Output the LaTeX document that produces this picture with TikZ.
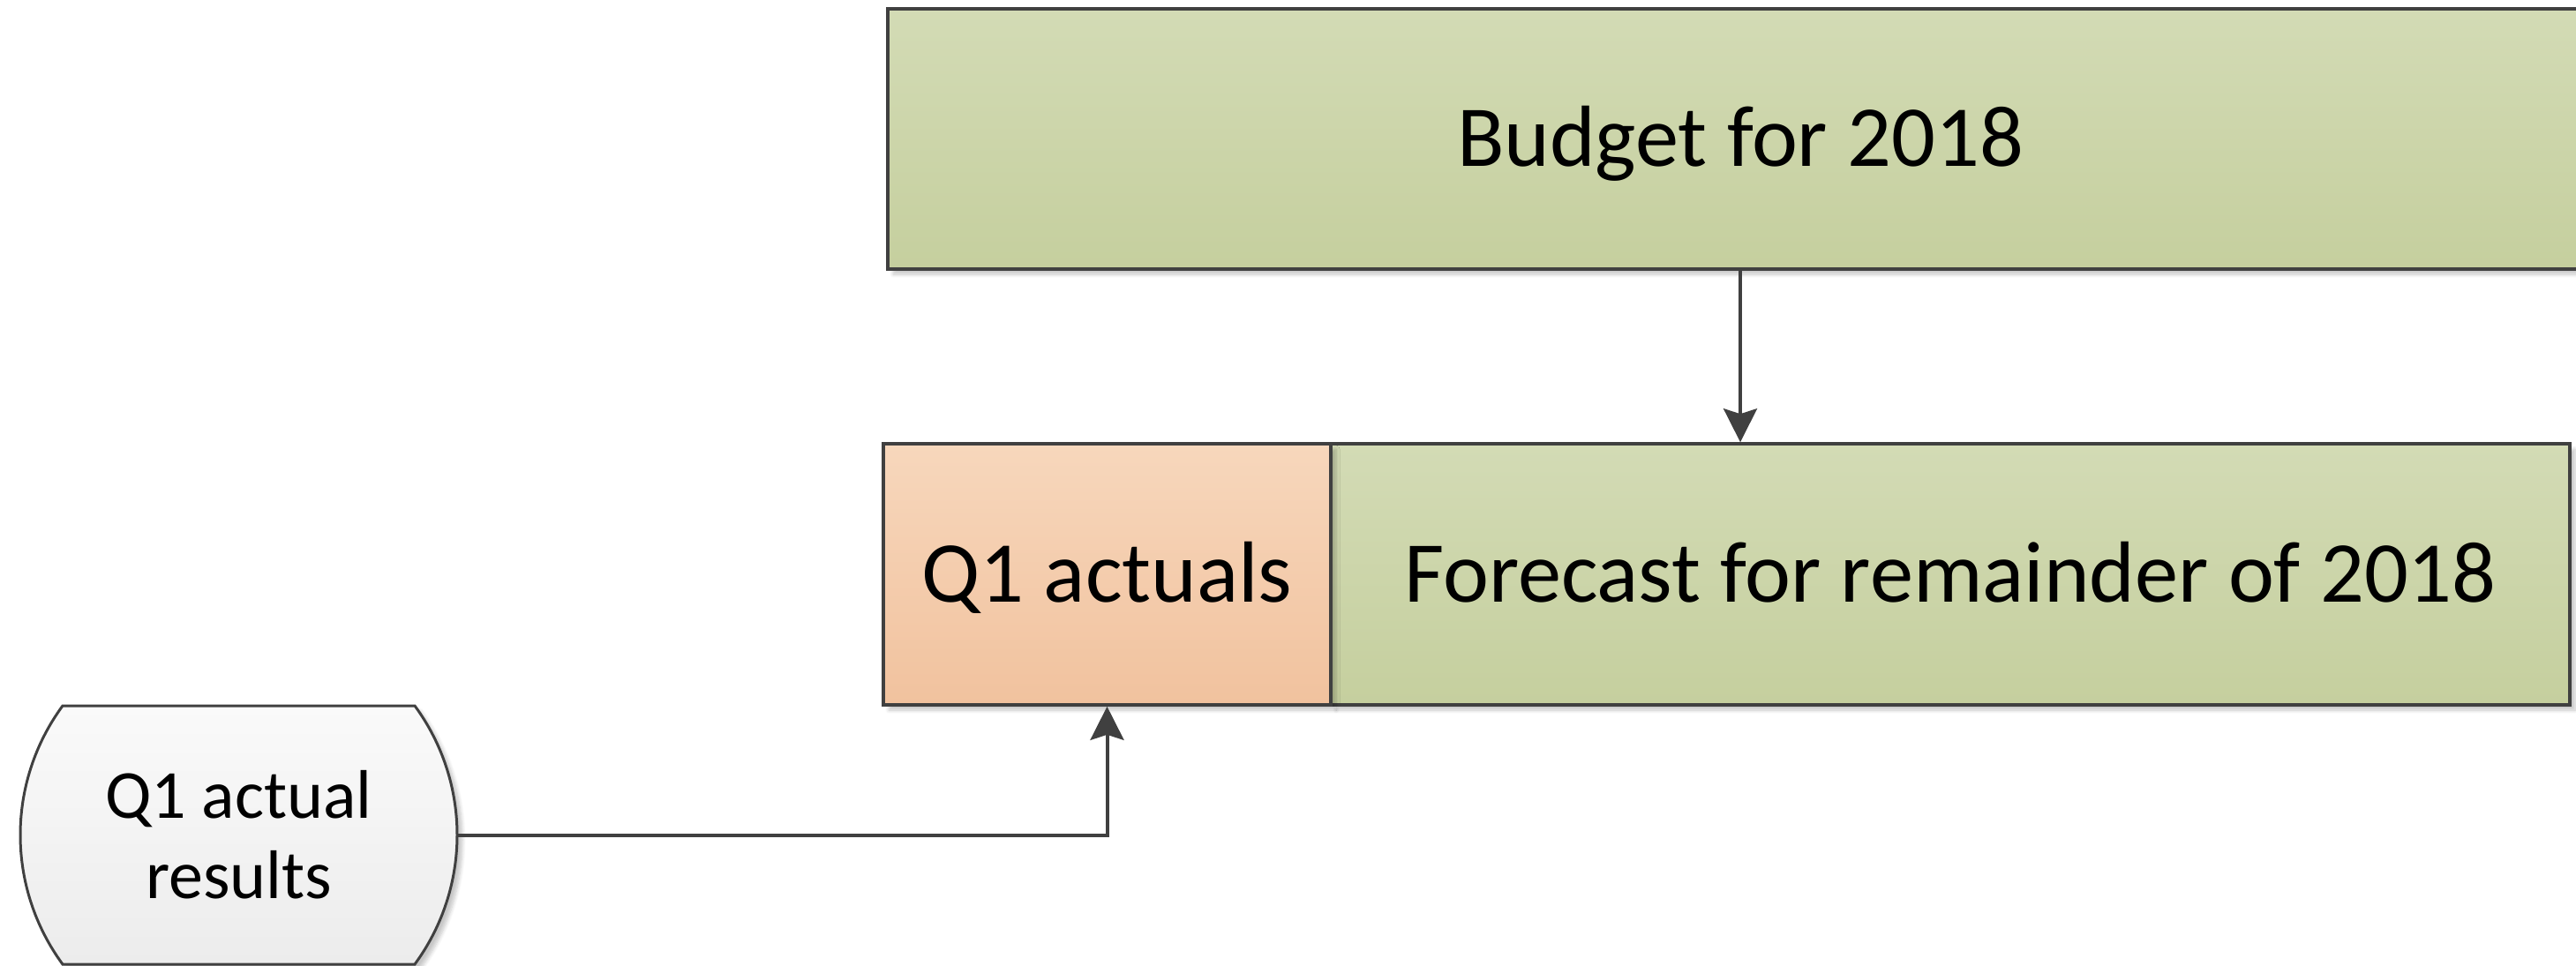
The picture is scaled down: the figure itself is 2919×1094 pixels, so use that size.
\documentclass[tikz,border=0pt]{standalone}
\usepackage{fontspec}
\setmainfont{Carlito}
\usetikzlibrary{arrows.meta,shadows.blur}

\definecolor{edge}{HTML}{404040}
\definecolor{greentop}{HTML}{D3DBB5}
\definecolor{greenbot}{HTML}{C5CF9E}
\definecolor{orangetop}{HTML}{F7D7BC}
\definecolor{orangebot}{HTML}{F1C29E}
\definecolor{storetop}{HTML}{FAFAFA}
\definecolor{storebot}{HTML}{ECECEC}

\tikzset{
  soft shadow/.style={blur shadow={shadow xshift=1.5pt, shadow yshift=-1.5pt,
      shadow blur radius=1pt, shadow blur steps=6, shadow opacity=22,
      shadow blur extra rounding=0pt}},
  block/.style={rectangle, draw=edge, line width=0.9pt, inner sep=0pt,
      text height=15.5pt, text depth=0pt,
      font=\fontsize{24.6pt}{29pt}\selectfont, soft shadow},
  greenblock/.style={block, top color=greentop, bottom color=greenbot},
  orangeblock/.style={block, top color=orangetop, bottom color=orangebot},
  storeshape/.style={draw=edge, line width=0.75pt, top color=storetop,
      bottom color=storebot, soft shadow},
  storetext/.style={inner sep=0pt, align=center,
      font=\fontsize{19.5pt}{22.75pt}\selectfont},
  link/.style={draw=edge, line width=1pt,
      -{Stealth[length=9.5pt, width=9.5pt, inset=1.5pt]}},
}

\begin{document}
\begin{tikzpicture}[x=0.25pt, y=-0.25pt]
\useasboundingbox (0,0) rectangle (2919,1094);
\clip (0,0) rectangle (2919,1094);

% budget block (runs past the right edge)
\node[greenblock, minimum width=483pt, minimum height=73.75pt] (budget)
  at (1972,157.5) {Budget for 2018};

% forecast row: remainder of the year, then the Q1 part on top
\node[greenblock, minimum width=351pt, minimum height=74pt] (forecast)
  at (2210,651) {Forecast for remainder of 2018};
\node[orangeblock, minimum width=126.75pt, minimum height=74pt] (q1)
  at (1254.5,651) {Q1 actuals};

% stored data shape with curved sides
\path[storeshape] (71,800) -- (470,800)
  .. controls (534,887.2) and (534,1005.8) .. (470,1093)
  -- (71,1093)
  .. controls (7,1005.8) and (7,887.2) .. (71,800) -- cycle;
\node[storetext, minimum width=123.75pt, minimum height=73.25pt] (store)
  at (270.5,946.5) {Q1 actual\\results};

% connectors
\draw[link] (budget.south) -- (forecast.north -| budget.south);
\draw[link] (store.east) -| (q1.south);
\end{tikzpicture}
\end{document}
